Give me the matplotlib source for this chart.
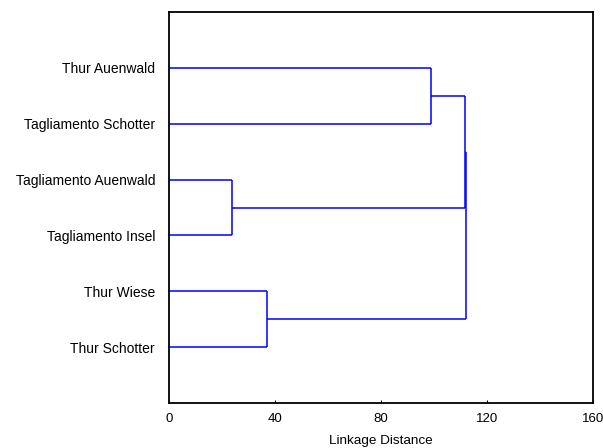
import matplotlib
matplotlib.use("Agg")
import matplotlib.pyplot as plt

plt.rcParams['font.family'] = ['Liberation Sans', 'DejaVu Sans']

# leaves, top to bottom
leaves = ["Thur Auenwald", "Tagliamento Schotter", "Tagliamento Auenwald",
          "Tagliamento Insel", "Thur Wiese", "Thur Schotter"]
# merges: (left node, right node, linkage distance); nodes 0..5 leaves, 6.. clusters
merge_left = [2, 4, 0, 6, 9]
merge_right = [3, 5, 1, 8, 7]
merge_height = [23.8, 37.0, 99.0, 111.7, 112.2]
xticks = [0, 40, 80, 120, 160]

fig = plt.figure(figsize=(6.03, 4.48), dpi=100)
ax = fig.add_axes([169/603, 1 - 403/448, (593-169)/603, (403-12)/448])

n = len(leaves)
ypos = {i: float(i) for i in range(n)}
xpos = {i: 0.0 for i in range(n)}
color = (0, 0, 1)
for k, (a, b, h) in enumerate(zip(merge_left, merge_right, merge_height)):
    node = n + k
    ax.plot([xpos[a], h], [ypos[a], ypos[a]], color=color, lw=1.1, solid_capstyle='butt')
    ax.plot([xpos[b], h], [ypos[b], ypos[b]], color=color, lw=1.1, solid_capstyle='butt')
    ax.plot([h, h], [ypos[a], ypos[b]], color=color, lw=1.1, solid_capstyle='butt')
    ypos[node] = (ypos[a] + ypos[b]) / 2
    xpos[node] = h

ax.set_ylim(n, -1)
ax.set_xlim(0, 160)
ax.set_yticks(range(n))
ax.set_yticklabels(leaves, fontsize=10)
ax.tick_params(axis='y', length=0, pad=10)
ax.set_xticks(xticks)
ax.set_xticklabels([str(t) for t in xticks], fontsize=9.5)
ax.tick_params(axis='x', direction='in', length=2, width=0.8, pad=7.5)
ax.set_xlabel("Linkage Distance", fontsize=9.7, labelpad=7)
for s in ax.spines.values():
    s.set_linewidth(1.3)

fig.savefig("out.png", dpi=100)
